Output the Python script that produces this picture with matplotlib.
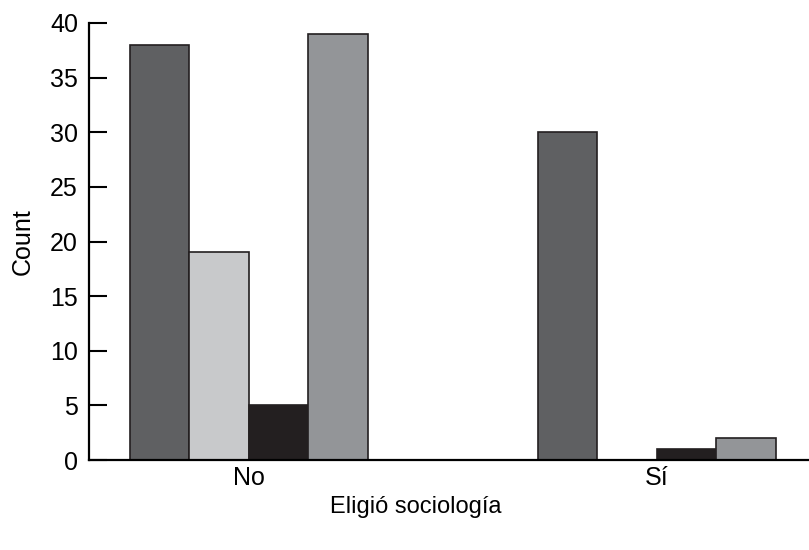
import numpy as np
import matplotlib.pyplot as plt

plt.rcParams['font.family'] = ['Liberation Sans', 'DejaVu Sans']

groups = ["No", "Sí"]
series_a = [38, 30]
series_b = [19, 0]
series_c = [5, 1]
series_d = [39, 2]
colors = ['#5f6062', '#c8c9cb', '#231f20', '#939598']

fig = plt.figure(figsize=(8.09, 5.5), dpi=100)
ax = fig.add_axes([0.110, 0.1636, 0.89, 0.7946])

x = np.arange(len(groups))
w = 0.146
for i, vals in enumerate([series_a, series_b, series_c, series_d]):
    ax.bar(x + (i - 1.5) * w, vals, w, color=colors[i], edgecolor='#231f20', linewidth=1.2)

ax.set_xlim(-0.392, 1.373)
ax.set_ylim(0, 40)
ax.set_yticks(range(0, 41, 5))
ax.set_xticks(x)
ax.set_xticklabels(groups)
ax.tick_params(axis='y', direction='in', length=13, width=1.5, labelsize=18, pad=8)
ax.tick_params(axis='x', length=0, labelsize=18, pad=4)
ax.spines['top'].set_visible(False)
ax.spines['right'].set_visible(False)
ax.spines['left'].set_linewidth(1.6)
ax.spines['bottom'].set_linewidth(1.6)
ax.set_ylabel("Count", fontsize=18, labelpad=11)
ax.set_xlabel("Eligió sociología", fontsize=17)
ax.xaxis.set_label_coords(0.454, -0.083)

fig.savefig("out.png", dpi=100)
